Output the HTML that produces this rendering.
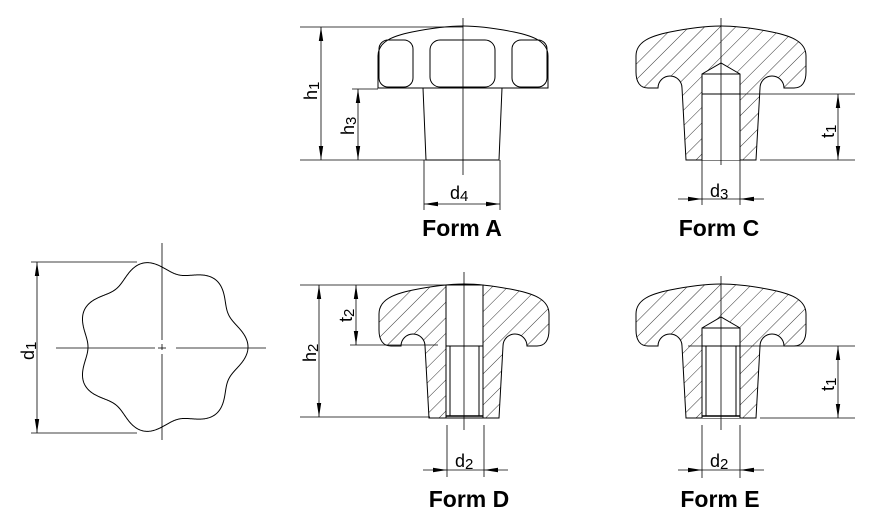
<!DOCTYPE html>
<html><head><meta charset="utf-8"><style>
html,body{margin:0;padding:0;background:#fff}
svg{display:block}
text{font-family:"Liberation Sans",Arial,sans-serif;fill:#000}
.b{font-weight:bold;font-size:23px}
.d{font-size:18px}
</style></head><body>
<svg width="869" height="524" viewBox="0 0 869 524" xmlns="http://www.w3.org/2000/svg">
<defs>
<pattern id="h" patternUnits="userSpaceOnUse" width="11" height="11" patternTransform="rotate(45)">
<line x1="0" y1="0" x2="0" y2="11" stroke="#000" stroke-width="0.8"/>
</pattern>
<marker id="a" markerWidth="14" markerHeight="6" refX="14" refY="3" orient="auto" markerUnits="userSpaceOnUse">
<path d="M0,0.8 L14,3 L0,5.2 Z" fill="#000"/>
</marker>
<marker id="s" markerWidth="14" markerHeight="6" refX="0" refY="3" orient="auto" markerUnits="userSpaceOnUse">
<path d="M14,0.8 L0,3 L14,5.2 Z" fill="#000"/>
</marker>
<path id="knob" d="M686 160 L682 88 A12 12 0 0 0 658 88 L648 88 C640 88 636 82 636 72 L636 56 C636 42 650 36 670 32 C690 28 706 26 721 26 C736 26 752 28 772 32 C792 36 806 42 806 56 L806 72 C806 82 802 88 794 88 L784 88 A12 12 0 0 0 760 88 L756 160 Z"/>
</defs>
<g fill="none" stroke="#000" stroke-width="1">

<path d="M378 88 L378 56 C378 42 392 36 412 32 C432 28 448 26 463 26 C478 26 494 28 514 32 C534 36 548 42 548 56 L548 88 Z" fill="#fff"/>
<rect x="379" y="40" width="34" height="47" rx="9"/>
<rect x="430" y="40" width="65" height="47" rx="10"/>
<rect x="512" y="40" width="35" height="47" rx="9"/>
<path d="M423 88 L426 160 L499 160 L502 88"/>
<line x1="463" y1="18" x2="463" y2="175" stroke-width="0.8"/>
<line x1="300" y1="27" x2="463" y2="27" stroke-width="0.8"/>
<line x1="300" y1="160" x2="426" y2="160" stroke-width="0.8"/>
<line x1="352" y1="89" x2="378" y2="89" stroke-width="0.8"/>
<line x1="321" y1="27" x2="321" y2="160" marker-start="url(#s)" marker-end="url(#a)" stroke-width="0.8"/>
<line x1="358" y1="89" x2="358" y2="160" marker-start="url(#s)" marker-end="url(#a)" stroke-width="0.8"/>
<line x1="424" y1="160" x2="424" y2="210" stroke-width="0.8"/>
<line x1="500" y1="160" x2="500" y2="210" stroke-width="0.8"/>
<line x1="424" y1="204" x2="500" y2="204" marker-start="url(#s)" marker-end="url(#a)" stroke-width="0.8"/>

<use href="#knob" fill="url(#h)" stroke="#000"/>
<path d="M702 160 L702 74 L721 63 L740 74 L740 160" fill="#fff"/>
<line x1="702" y1="74" x2="740" y2="74"/>
<line x1="702" y1="94" x2="740" y2="94"/>
<line x1="721" y1="18" x2="721" y2="165" stroke-width="0.8"/>
<line x1="740" y1="94" x2="855" y2="94" stroke-width="0.8"/>
<line x1="760" y1="160" x2="855" y2="160" stroke-width="0.8"/>
<line x1="838" y1="94" x2="838" y2="160" marker-start="url(#s)" marker-end="url(#a)" stroke-width="0.8"/>
<line x1="702" y1="150" x2="702" y2="205" stroke-width="0.8"/>
<line x1="740" y1="150" x2="740" y2="205" stroke-width="0.8"/>
<line x1="678" y1="199" x2="702" y2="199" marker-end="url(#a)" stroke-width="0.8"/>
<line x1="764" y1="199" x2="740" y2="199" marker-end="url(#a)" stroke-width="0.8"/>
<line x1="702" y1="199" x2="740" y2="199" stroke-width="0.8"/>

<g transform="translate(0,258)">
<use href="#knob" fill="url(#h)" stroke="#000"/>
<path d="M702 160 L702 70 L721 59 L740 70 L740 160" fill="#fff"/>
<line x1="702" y1="70" x2="740" y2="70"/>
<line x1="702" y1="88" x2="740" y2="88"/>
<line x1="706" y1="88" x2="706" y2="158"/>
<line x1="736" y1="88" x2="736" y2="158"/>
<line x1="702" y1="158" x2="740" y2="158" stroke-width="1.5"/>
</g>
<line x1="721" y1="276" x2="721" y2="430" stroke-width="0.8"/>
<line x1="688" y1="346" x2="855" y2="346" stroke-width="0.8"/>
<line x1="760" y1="418" x2="855" y2="418" stroke-width="0.8"/>
<line x1="838" y1="346" x2="838" y2="418" marker-start="url(#s)" marker-end="url(#a)" stroke-width="0.8"/>
<line x1="702" y1="425" x2="702" y2="478" stroke-width="0.8"/>
<line x1="740" y1="425" x2="740" y2="478" stroke-width="0.8"/>
<line x1="678" y1="470" x2="702" y2="470" marker-end="url(#a)" stroke-width="0.8"/>
<line x1="764" y1="470" x2="740" y2="470" marker-end="url(#a)" stroke-width="0.8"/>
<line x1="702" y1="470" x2="740" y2="470" stroke-width="0.8"/>

<g transform="translate(-257,258)">
<use href="#knob" fill="url(#h)" stroke="#000"/>
<rect x="703" y="27" width="37" height="133" fill="#fff"/>
<line x1="703" y1="30" x2="703" y2="160"/>
<line x1="740" y1="30" x2="740" y2="160"/>
<line x1="703" y1="88" x2="740" y2="88"/>
<line x1="707" y1="88" x2="707" y2="158"/>
<line x1="736" y1="88" x2="736" y2="158"/>
<line x1="703" y1="158" x2="740" y2="158" stroke-width="1.5"/>
</g>
<line x1="464" y1="272" x2="464" y2="430" stroke-width="0.8"/>
<line x1="300" y1="285" x2="460" y2="285" stroke-width="0.8"/>
<line x1="300" y1="417" x2="430" y2="417" stroke-width="0.8"/>
<line x1="350" y1="345" x2="438" y2="345" stroke-width="0.8"/>
<line x1="319" y1="285" x2="319" y2="417" marker-start="url(#s)" marker-end="url(#a)" stroke-width="0.8"/>
<line x1="356" y1="285" x2="356" y2="345" marker-start="url(#s)" marker-end="url(#a)" stroke-width="0.8"/>
<line x1="447" y1="425" x2="447" y2="477" stroke-width="0.8"/>
<line x1="484" y1="425" x2="484" y2="477" stroke-width="0.8"/>
<line x1="423" y1="470" x2="447" y2="470" marker-end="url(#a)" stroke-width="0.8"/>
<line x1="508" y1="470" x2="484" y2="470" marker-end="url(#a)" stroke-width="0.8"/>
<line x1="447" y1="470" x2="484" y2="470" stroke-width="0.8"/>

<path id="star" d=""/>
<line x1="162" y1="243" x2="162" y2="340" stroke-width="0.8"/>
<line x1="162" y1="344" x2="162" y2="350" stroke-width="0.8"/>
<line x1="162" y1="354" x2="162" y2="440" stroke-width="0.8"/>
<line x1="56" y1="348" x2="155" y2="348" stroke-width="0.8"/>
<line x1="158" y1="348" x2="166" y2="348" stroke-width="0.8"/>
<line x1="176" y1="348" x2="266" y2="348" stroke-width="0.8"/>
<line x1="31" y1="262" x2="137" y2="262" stroke-width="0.8"/>
<line x1="31" y1="433" x2="137" y2="433" stroke-width="0.8"/>
<line x1="37" y1="262" x2="37" y2="433" marker-start="url(#s)" marker-end="url(#a)" stroke-width="0.8"/>
</g>

<text class="b" x="462" y="236" text-anchor="middle">Form A</text>
<text class="b" x="719" y="236" text-anchor="middle">Form C</text>
<text class="b" x="469" y="507" text-anchor="middle">Form D</text>
<text class="b" x="720" y="507" text-anchor="middle">Form E</text>

<text class="d" transform="translate(317,100) rotate(-90)">h<tspan font-size="15" dy="2">1</tspan></text>
<text class="d" transform="translate(354,135) rotate(-90)">h<tspan font-size="15" dy="2">3</tspan></text>
<text class="d" transform="translate(316,362) rotate(-90)">h<tspan font-size="15" dy="2">2</tspan></text>
<text class="d" transform="translate(352,322) rotate(-90)">t<tspan font-size="15" dy="2">2</tspan></text>
<text class="d" transform="translate(834,138) rotate(-90)">t<tspan font-size="15" dy="2">1</tspan></text>
<text class="d" transform="translate(834,391) rotate(-90)">t<tspan font-size="15" dy="2">1</tspan></text>
<text class="d" transform="translate(34,360) rotate(-90)">d<tspan font-size="15" dy="2">1</tspan></text>
<text class="d" x="450" y="199">d<tspan font-size="15" dy="2">4</tspan></text>
<text class="d" x="710" y="197">d<tspan font-size="15" dy="2">3</tspan></text>
<text class="d" x="455" y="467">d<tspan font-size="15" dy="2">2</tspan></text>
<text class="d" x="710" y="467">d<tspan font-size="15" dy="2">2</tspan></text>
</svg>
<script>
(function(){var cx=162,cy=347,p=[];for(var i=0;i<=700;i++){var t=i/700*2*Math.PI;var r=80+6*Math.cos(7*t);p.push((cx+r*Math.cos(t)).toFixed(2)+","+(cy-r*Math.sin(t)).toFixed(2));}
document.getElementById("star").setAttribute("d","M"+p.join(" L")+"Z");})();
</script>
</body></html>
